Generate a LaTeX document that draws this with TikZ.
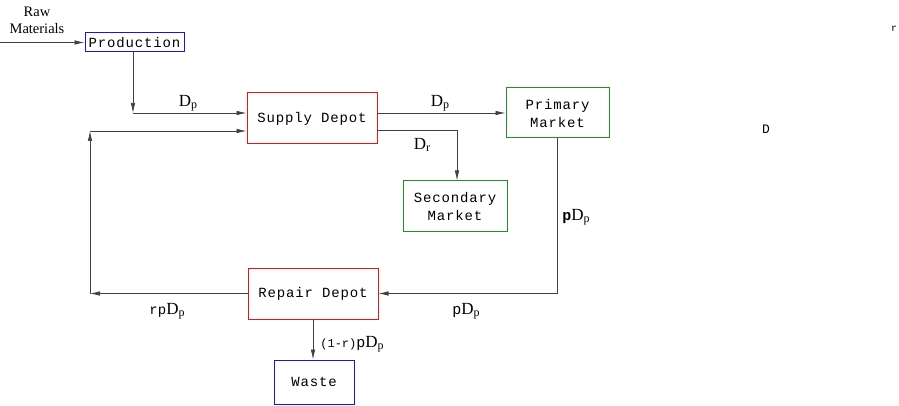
\documentclass[tikz,border=0pt]{standalone}
\usepackage{fontspec}
\setmainfont{Liberation Serif}
\setmonofont{Liberation Mono}
\newfontfamily\boxfont[LetterSpace=6]{Liberation Mono}
\usepackage{tikz}
\usetikzlibrary{arrows.meta}
\definecolor{mktgreen}{RGB}{30,150,30}
\definecolor{depotred}{RGB}{235,20,20}
\definecolor{endblue}{RGB}{20,20,235}

% label D with a small subscript
\newcommand{\Dsub}[1]{{\fontsize{17}{17}\selectfont D}\raisebox{-0.35ex}{\fontsize{12}{12}\selectfont #1}}

\begin{document}
\begin{tikzpicture}[x=1pt, y=-1pt, line width=0.7pt,
    box/.style={draw, line width=1pt, font=\fontsize{14}{18}\selectfont\boxfont, align=center, inner sep=0pt},
    flow/.style={draw=black!75, -{Latex[length=10pt,width=4.5pt]}},
    flowline/.style={draw=black!75},
    lbl/.style={inner sep=0pt}]
    \useasboundingbox (0,0) rectangle (899,406);

    % draw boxes
    \node[box, draw=endblue, minimum width=99, minimum height=19] (prod) at (134.5,42.5) {Production};
    \node[box, draw=depotred, minimum width=130, minimum height=51] (supply) at (312,118.5) {Supply Depot};
    \node[box, draw=mktgreen, minimum width=103, minimum height=50] (primary) at (557.5,113) {Primary\\Market};
    \node[box, draw=mktgreen, minimum width=104, minimum height=50] (secondary) at (455,206) {Secondary\\Market};
    \node[box, draw=depotred, minimum width=130, minimum height=51] (repair) at (313,293.5) {Repair Depot};
    \node[box, draw=endblue, minimum width=80, minimum height=44] (waste) at (314,382) {Waste};

    % draw raw materials input
    \node[lbl, align=center, font=\fontsize{14.5}{17}\selectfont] (raw) at (37,20) {Raw\\Materials};
    \coordinate (rawin) at (0,42.5);
    \draw[flow] (rawin) -- (prod.west);

    % draw production to supply depot
    \coordinate (j1) at (133,113);
    \draw[flow] (prod.south -| j1) -- (j1);
    \draw[flow] (j1) -- (j1 -| supply.west);

    % draw supply depot to markets
    \draw[flow] (primary.west -| supply.east) -- (primary.west);
    \coordinate (j2) at (457,130);
    \draw[flowline] (j2 -| supply.east) -- (j2);
    \draw[flow] (j2) -- (j2 |- secondary.north);

    % draw returns to repair depot
    \coordinate (j3) at (557,293.5);
    \draw[flowline] (primary.south -| j3) -- (j3);
    \draw[flow] (j3) -- (repair.east);

    % draw repaired items back to supply depot
    \coordinate (j4) at (90,293.5);
    \coordinate (j5) at (90,131);
    \draw[flow] (repair.west) -- (j4);
    \draw[flow] (j4) -- (j5);
    \draw[flow] (j5) -- (j5 -| supply.west);

    % draw repair depot to waste
    \draw[flow] (repair.south) -- (repair.south |- waste.north);

    % draw flow labels
    \node[lbl] (l1) at (188,103) {\Dsub{p}};
    \node[lbl] (l2) at (440,103) {\Dsub{p}};
    \node[lbl] (l3) at (422,145) {\Dsub{r}};
    \node[lbl] (l4) at (576,217) {{\fontsize{15}{15}\selectfont\ttfamily\bfseries p}\Dsub{p}};
    \node[lbl] (l5) at (466,311) {{\fontsize{15}{15}\selectfont\ttfamily p}\Dsub{p}};
    \node[lbl] (l6) at (167,311) {{\fontsize{14}{14}\selectfont\ttfamily rp}\Dsub{p}};
    \node[lbl] (l7) at (352,344) {{\fontsize{12}{12}\selectfont\ttfamily (1-r)}{\fontsize{15}{15}\selectfont\ttfamily p}\Dsub{p}};

    % draw stray letters
    \node[lbl, font=\fontsize{10}{10}\selectfont\ttfamily] (s1) at (894,29) {r};
    \node[lbl, font=\fontsize{13}{13}\selectfont\ttfamily] (s2) at (766,129) {D};
\end{tikzpicture}
\end{document}
